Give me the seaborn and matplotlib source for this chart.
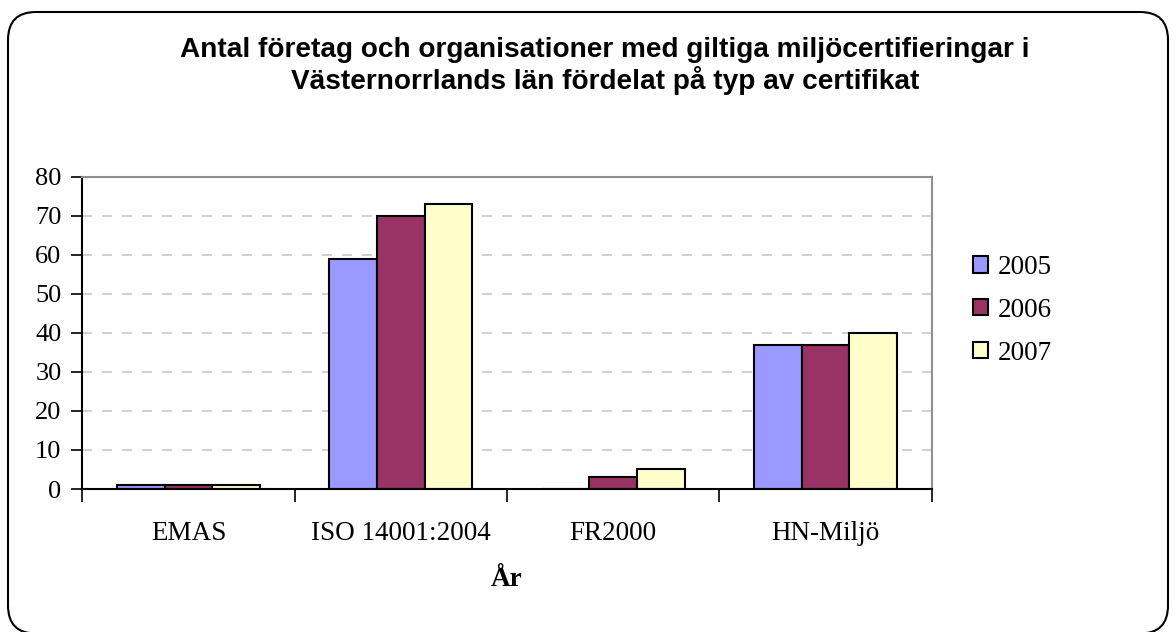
import matplotlib
matplotlib.use("Agg")
import matplotlib.pyplot as plt
import seaborn as sns
import pandas as pd
from matplotlib.patches import FancyBboxPatch, Patch
from matplotlib.transforms import IdentityTransform

categories = ["EMAS", "ISO 14001:2004", "FR2000", "HN-Miljö"]
years = ["2005", "2006", "2007"]
values_2005 = [1, 59, 0, 37]
values_2006 = [1, 70, 3, 37]
values_2007 = [1, 73, 5, 40]
colors = ["#9999FF", "#993366", "#FFFFCC"]
yticks = [0, 10, 20, 30, 40, 50, 60, 70, 80]
title = "Antal företag och organisationer med giltiga miljöcertifieringar i\nVästernorrlands län fördelat på typ av certifikat"
xlabel = "År"

rows = []
for yr, vals in zip(years, [values_2005, values_2006, values_2007]):
    for c, v in zip(categories, vals):
        rows.append({"Kategori": c, "År": yr, "Antal": v})
df = pd.DataFrame(rows)

sns.set_style("white")
plt.rcParams["font.family"] = ["Liberation Serif", "DejaVu Serif"]
plt.rcParams["text.color"] = "black"
plt.rcParams["xtick.color"] = "black"
plt.rcParams["ytick.color"] = "black"
plt.rcParams["axes.labelcolor"] = "black"

W, H = 1176, 632
fig = plt.figure(figsize=(W / 100, H / 100), dpi=100)

# rounded chart border (pixel coordinates, origin bottom-left)
border = FancyBboxPatch((8, -1.5), 1160, 621.5,
                        boxstyle="round,pad=0,rounding_size=28",
                        transform=IdentityTransform(), fill=False,
                        edgecolor="black", linewidth=1.5)
fig.patches.append(border)

ax = fig.add_axes([82.3 / W, 1 - 489 / H, 849.4 / W, 312.3 / H])
sns.barplot(data=df, x="Kategori", y="Antal", hue="År", order=categories,
            hue_order=years, palette=colors, saturation=1, width=0.675, gap=0,
            edgecolor="black", linewidth=1.5, ax=ax, legend=False)

ax.set_ylim(0, 80)
ax.set_xlim(-0.5, len(categories) - 0.5)
ax.set_yticks(yticks)
ax.set_yticklabels([str(t) for t in yticks], fontsize=19)
ax.tick_params(axis="y", length=8, width=1.2, color="black", pad=7, left=True)

ax.set_xticks([i - 0.5 for i in range(len(categories) + 1)])
ax.set_xticklabels([])
ax.set_xticks(range(len(categories)), minor=True)
ax.set_xticklabels(categories, minor=True, fontsize=19.5)
ax.tick_params(axis="x", which="major", length=9, width=1.2, color="black", bottom=True)
ax.tick_params(axis="x", which="minor", length=0, pad=23)

ax.yaxis.grid(True, linestyle=(0, (6, 6)), color="#c8c8c8", linewidth=1.2)
ax.set_axisbelow(True)
for s in ["top", "right"]:
    ax.spines[s].set_visible(True)
    ax.spines[s].set_color("#909090")
    ax.spines[s].set_linewidth(1.5)
for s in ["left", "bottom"]:
    ax.spines[s].set_color("black")
    ax.spines[s].set_linewidth(1.5)

ax.set_ylabel("")
ax.set_xlabel(xlabel, fontsize=19.5, fontweight="bold", labelpad=15)

fig.text(605 / W, 1 - 66 / H, title, ha="center", va="center",
         fontsize=20.2, fontweight="bold", family=["Liberation Sans", "DejaVu Sans"],
         linespacing=1.15)

handles = [Patch(facecolor=c, edgecolor="black", linewidth=1.5) for c in colors]
fig.legend(handles, years, loc="upper left", bbox_to_anchor=(973 / W, 1 - 255 / H),
           frameon=False, fontsize=19.5, handlelength=0.55, handleheight=0.55,
           handletextpad=0.35, labelspacing=0.66, borderaxespad=0, borderpad=0)

fig.savefig("out.png", dpi=100, facecolor="white")
